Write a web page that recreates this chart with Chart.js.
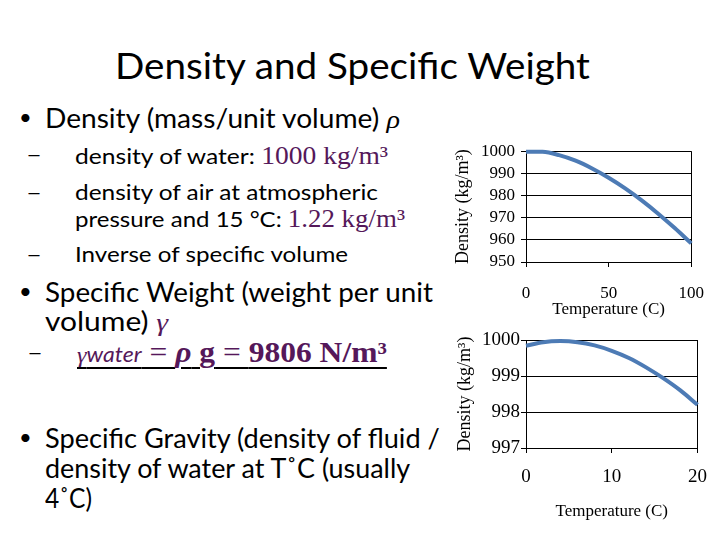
<!DOCTYPE html>
<html>
<head>
<meta charset="utf-8">
<script src="https://cdn.jsdelivr.net/npm/chart.js@4.4.1/dist/chart.umd.min.js"></script>
<style>
  html, body { margin: 0; padding: 0; background: #fff; }
  #slide { position: relative; width: 720px; height: 540px; overflow: hidden;
           font-family: Lato, 'Open Sans', sans-serif; color: #000; }
  .t { position: absolute; white-space: nowrap; line-height: 1.2; transform-origin: 0 50%; }
  .m { font-family: 'Liberation Serif', 'Times New Roman', serif; color: #55185a; }
  canvas { position: absolute; }
</style>
</head>
<body>
<div id="slide">
  <div class="t fit" data-w="475" style="left:115px;top:43px;font-size:37px">Density and Specific Weight</div>

  <div class="t" style="left:19px;top:104px;font-size:22px">•</div>
  <div class="t fit" data-w="355" style="left:45px;top:103px;font-size:26px">Density (mass/unit volume) <i class="m" style="color:#000">ρ</i></div>

  <div class="t fit" data-w="16" style="left:26px;top:141px;font-size:22px">–</div>
  <div class="t fit" data-w="313" style="left:75px;top:141px;font-size:22px">density of water: <span class="m" style="font-size:1.12em">1000 kg/m³</span></div>

  <div class="t fit" data-w="16" style="left:26px;top:179px;font-size:22px">–</div>
  <div class="t fit" data-w="303" style="left:75px;top:179px;font-size:22px">density of air at atmospheric</div>
  <div class="t fit" data-w="330" style="left:75px;top:204px;font-size:22px">pressure and 15 °C: <span class="m" style="font-size:1.12em">1.22 kg/m³</span></div>

  <div class="t fit" data-w="16" style="left:26px;top:241px;font-size:22px">–</div>
  <div class="t fit" data-w="273" style="left:75px;top:241px;font-size:22px">Inverse of specific volume</div>

  <div class="t" style="left:19px;top:278px;font-size:22px">•</div>
  <div class="t fit" data-w="388" style="left:45px;top:277px;font-size:26px">Specific Weight (weight per unit</div>
  <div class="t fit" data-w="123" style="left:45px;top:306px;font-size:26px">volume) <i class="m">γ</i></div>

  <div class="t fit" data-w="16" style="left:27px;top:339px;font-size:22px">–</div>
  <div class="t fit" data-w="310" style="left:77px;top:336px;font-size:22px;text-decoration:underline;text-decoration-color:#000;text-underline-offset:5px;text-decoration-thickness:2px"><span class="m" style="font-style:italic">γ</span><i style="color:#55185a;font-size:0.95em">water</i><span class="m" style="font-size:1.3em"> = <b><i>ρ</i> g</b> = <b>9806 N/m³</b></span></div>

  <div class="t" style="left:19px;top:424px;font-size:22px">•</div>
  <div class="t fit" data-w="395" style="left:45px;top:423px;font-size:26px">Specific Gravity (density of fluid /</div>
  <div class="t fit" data-w="365" style="left:45px;top:453px;font-size:26px">density of water at T˚C (usually</div>
  <div class="t fit" data-w="47" style="left:45px;top:483px;font-size:26px">4˚C)</div>

  <canvas id="hotChart" width="280" height="190" style="left:440px;top:135px"></canvas>
  <canvas id="coldChart" width="280" height="205" style="left:440px;top:325px"></canvas>
</div>

<script>
// water density, 0-100 C
const hotTemps = [0, 10, 20, 30, 40, 50, 60, 70, 80, 90, 100];
const hotDensity = [999.8, 999.7, 998.2, 995.7, 992.2, 988.0, 983.2, 977.8, 971.8, 965.3, 958.4];
const hotXTicks = [0, 50, 100];
const hotYTicks = [950, 960, 970, 980, 990, 1000];

// water density, 0-20 C
const coldTemps = [0, 2, 4, 6, 8, 10, 12, 14, 16, 18, 20];
const coldDensity = [999.84, 999.94, 999.97, 999.94, 999.85, 999.70, 999.50, 999.24, 998.94, 998.60, 998.20];
const coldXTicks = [0, 10, 20];
const coldYTicks = [997, 998, 999, 1000];

const serif = "'Liberation Serif', 'Times New Roman', serif";
const lineColor = '#4d7bb5';

function drawChart(id, xs, ys, xTicks, yTicks, o) {
  const xMax = xTicks[xTicks.length - 1];
  return new Chart(document.getElementById(id), {
    type: 'scatter',
    data: {
      datasets: [{
        data: xs.map((x, i) => ({ x: x, y: ys[i] })),
        showLine: true,
        borderColor: lineColor,
        borderWidth: 4,
        pointRadius: 0,
        cubicInterpolationMode: 'monotone',
        clip: false,
        fill: false
      }]
    },
    options: {
      responsive: false,
      animation: false,
      layout: { padding: { top: o.top, right: o.right, left: 0, bottom: 0 } },
      plugins: { legend: { display: false }, tooltip: { enabled: false } },
      scales: {
        x: {
          type: 'linear',
          min: xTicks[0],
          max: xMax,
          afterBuildTicks: s => { s.ticks = xTicks.map(v => ({ value: v })); },
          afterFit: s => { s.height = o.xH; },
          grid: {
            drawOnChartArea: true,
            color: c => (c.tick && c.tick.value === xMax) ? '#000' : 'rgba(0,0,0,0)',
            tickColor: '#000',
            tickLength: 5
          },
          border: { display: true, color: '#000', width: 1 },
          ticks: { color: '#000', font: { family: serif, size: o.tickSize }, padding: o.xPad,
                   maxRotation: 0, autoSkip: false, callback: v => String(v) },
          title: { display: true, text: 'Temperature (C)', color: '#000',
                   font: { family: serif, size: 17 }, padding: { top: 0, bottom: o.xTitlePad } }
        },
        y: {
          min: yTicks[0],
          max: yTicks[yTicks.length - 1],
          afterBuildTicks: s => { s.ticks = yTicks.map(v => ({ value: v })); },
          afterFit: s => { s.width = 86; },
          grid: { color: '#000', tickColor: '#000', tickLength: 5 },
          border: { display: true, color: '#000', width: 1 },
          ticks: { color: '#000', font: { family: serif, size: o.tickSize }, padding: o.yPad,
                   autoSkip: false, callback: v => String(v) },
          title: { display: true, text: 'Density (kg/m³)', color: '#000',
                   font: { family: serif, size: 18 }, padding: { top: o.yTitlePad, bottom: 0 } }
        }
      }
    }
  });
}

drawChart('hotChart', hotTemps, hotDensity, hotXTicks, hotYTicks,
  { top: 15, right: 27, xH: 63, tickSize: 17, xPad: 16, yPad: 6, xTitlePad: 5, yTitlePad: 12 });
drawChart('coldChart', coldTemps, coldDensity, coldXTicks, coldYTicks,
  { top: 15, right: 22, xH: 82, tickSize: 19, xPad: 13, yPad: 1, xTitlePad: 8, yTitlePad: 14 });

// squeeze text lines to the widths seen on the slide
document.querySelectorAll('.fit').forEach(el => {
  const w = el.getBoundingClientRect().width;
  const target = +el.dataset.w;
  if (w > 0) el.style.transform = 'scaleX(' + (target / w).toFixed(3) + ')';
});
</script>
</body>
</html>
